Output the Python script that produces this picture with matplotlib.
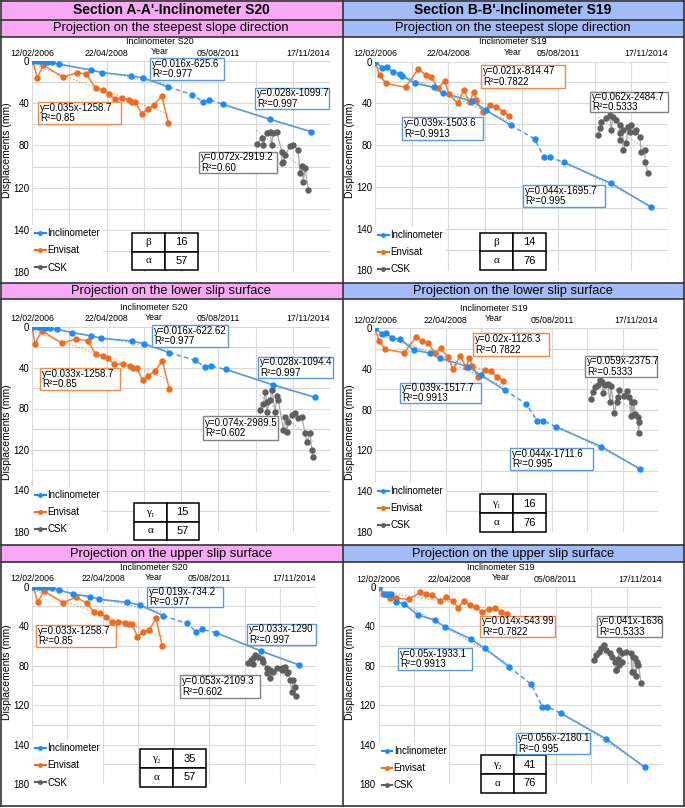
import numpy as np
import matplotlib
matplotlib.use('Agg')
import matplotlib.pyplot as plt
from matplotlib.patches import Rectangle
from matplotlib.lines import Line2D
from matplotlib.transforms import offset_copy

plt.rcParams['font.family'] = ['Liberation Sans', 'DejaVu Sans']

W, H = 685, 808

# dates are Excel serial days, displacements in mm (axis labels as printed)
x_ticks = list(range(38760, 41961, 400))
x_labels = ['12/02/2006', '', '22/04/2008', '', '', '05/08/2011', '', '', '17/11/2014']
y_ticks = list(range(0, 201, 20))
y_labels = ['0', '', '40', '', '80', '', '120', '', '140', '', '180']

# ---------- Section A-A' / Inclinometer S20 ----------
a_steep_incl_t = [38767, 38810, 38846, 38900, 38924, 38972, 39053, 39394, 39509, 39823, 39955, 40224,
                  40482, 40600, 40661, 40808, 41316, 41756]
a_steep_incl_d = [0, 0, 0, 0.5, 1, 1.2, 3, 8.5, 11, 14, 16, 24.6, 32, 39, 36.7, 41, 55.3, 67]
a_steep_env_t = [38767, 38817, 38881, 39096, 39240, 39340, 39447, 39526, 39587, 39651, 39730, 39802,
                 39837, 39866, 39938, 40003, 40070, 40153, 40224]
a_steep_env_d = [0, 16, 4, 15.5, 11, 12.3, 26, 27.5, 31, 36, 35, 37, 38.5, 38.5, 50, 45.5, 41.7, 33, 58.5]
a_steep_csk_t = [41173, 41244, 41334, 41227, 41281, 41316, 41352, 41388, 41442, 41477, 41442, 41460,
                 41531, 41567, 41620, 41657, 41692, 41638, 41674, 41728]
a_steep_csk_d = [78.7, 79.6, 80, 73.3, 68.5, 67, 68, 67, 86, 89, 97, 95.5, 81, 79.6, 84.4, 99.5,
                 101.7, 106.5, 114.4, 122.3]

a_lower_incl_t = [38774, 38821, 38864, 38900, 38953, 39032, 39193, 39390, 39501, 39831, 39966, 40235,
                  40511, 40618, 40680, 40840, 41352, 41800]
a_lower_incl_d = [0, 0, 0, 1, 1.8, 2.7, 6, 9, 11.5, 14.2, 16.8, 25.6, 33, 39.5, 38.5, 41.8, 57.1, 69.1]
a_lower_env_t = [38760, 38792, 38864, 39079, 39233, 39358, 39444, 39526, 39573, 39645, 39735, 39813,
                 39848, 39884, 39949, 40009, 40081, 40160, 40235]
a_lower_env_d = [0, 17.1, 4.1, 16.4, 12.2, 13.9, 27.1, 28.5, 31, 36.9, 36.6, 38.6, 40.2, 40.2, 52.2,
                 48, 43.4, 33.4, 61.3]
a_lower_csk_t = [41209, 41244, 41281, 41316, 41281, 41370, 41405, 41477, 41459, 41495, 41513, 41549,
                 41585, 41620, 41657, 41692, 41746, 41710, 41764, 41782, 41263, 41338, 41391]
a_lower_csk_d = [81.5, 75.6, 73.4, 71.7, 83.2, 83.2, 71.7, 88, 101, 102.7, 92.9, 86.4, 84.7, 89.6, 88,
                 104.2, 104.2, 112.4, 120.5, 127, 63.9, 62, 67.8]

a_upper_incl_t = [38775, 38824, 38861, 38925, 38982, 39068, 39219, 39414, 39519, 39834, 39977, 40240,
                  40503, 40608, 40672, 40834, 41337, 41772]
a_upper_incl_d = [0, 0, 0, 0.7, 1, 3.4, 7.4, 10.1, 12.8, 15.8, 18.6, 29.4, 37.1, 45.6, 43.2, 46.6,
                  65.2, 79.4]
a_upper_env_t = [38775, 38824, 38895, 39106, 39256, 39383, 39459, 39526, 39594, 39665, 39733, 39808,
                 39857, 39890, 39947, 40014, 40082, 40157, 40228]
a_upper_env_d = [0, 15.8, 4.1, 16.2, 10.7, 16.8, 26, 27, 30.4, 36.1, 35.5, 36.5, 38.1, 38.1, 50.7,
                 45.6, 43.9, 32, 59.8]
a_upper_csk_t = [41198, 41225, 41254, 41273, 41311, 41349, 41254, 41367, 41405, 41442, 41518, 41574,
                 41611, 41649, 41405, 41442, 41473, 41574, 41630, 41668, 41705, 41724, 41687, 41735]
a_upper_csk_d = [77.7, 74.3, 72.6, 69.5, 71, 73.3, 78.7, 76.6, 82.7, 84.4, 82.1, 82.7, 81.1, 86.2,
                 87.8, 92.9, 86.2, 84.4, 87.8, 94.6, 94.6, 101.4, 106.4, 110.8]

# ---------- Section B-B' / Inclinometer S19 ----------
b_steep_incl_t = [38760, 38840, 38891, 38957, 39036, 39052, 39200, 39401, 39503, 39822, 39969, 40242,
                  40504, 40605, 40674, 40821, 41340, 41777]
b_steep_incl_d = [0, 5.9, 5, 10.3, 12, 13.6, 20.9, 24.7, 30.1, 38.1, 46.4, 60.8, 74.2, 91.7, 91.7,
                  96.5, 116.6, 139.5]
b_steep_env_t = [38760, 38812, 38877, 39095, 39229, 39320, 39375, 39448, 39521, 39568, 39666, 39729,
                 39794, 39838, 39866, 39939, 40012, 40078, 40158, 40223]
b_steep_env_d = [0, 12.9, 20.9, 24.7, 7.5, 12.9, 15.1, 25.6, 18.7, 31.4, 40, 27.3, 39, 28.9, 36.8,
                 48.6, 41.6, 43.3, 48, 51.9]
b_steep_csk_t = [41195, 41214, 41231, 41286, 41323, 41340, 41359, 41395, 41432, 41435, 41432, 41468,
                 41468, 41504, 41523, 41545, 41559, 41596, 41614, 41651, 41668, 41708, 41708, 41741]
b_steep_csk_d = [70.3, 63.9, 57.6, 54.4, 51.2, 65.6, 52.8, 56, 60.8, 68.4, 75.1, 65.6, 84.7, 78.3,
                 62.4, 67.2, 60.8, 67.2, 65.6, 72, 86.3, 84.7, 95.9, 107]

b_lower_incl_t = [38760, 38843, 38888, 38956, 39046, 39197, 39385, 39498, 39811, 39955, 40226, 40471,
                  40592, 40660, 40803, 41319, 41753]
b_lower_incl_d = [0, 5.9, 4.9, 9.8, 10.8, 21.3, 24.6, 29.5, 37.7, 45.9, 60.7, 74.4, 90.8, 90.8, 96.7,
                  116.4, 138.3]
b_lower_env_t = [38760, 38805, 38873, 39088, 39224, 39295, 39363, 39439, 39506, 39582, 39646, 39722,
                 39790, 39827, 39861, 39929, 40005, 40073, 40137, 40212]
b_lower_env_d = [0, 12.5, 20.6, 24, 8.8, 12.2, 14.7, 24.6, 19.7, 28.5, 40.3, 26.9, 38.3, 28.9, 37.1,
                 47.6, 41, 42, 48.2, 51.5]
b_lower_csk_t = [41198, 41224, 41251, 41281, 41300, 41326, 41364, 41394, 41432, 41341, 41416, 41465,
                 41492, 41510, 41522, 41578, 41605, 41631, 41662, 41688, 41654, 41680, 41699, 41730,
                 41741, 41748]
b_lower_csk_d = [69.8, 62.3, 57.4, 55.7, 50.8, 52.5, 55.7, 54.7, 56.7, 63.9, 72.7, 83.6, 72.2, 67.2,
                 60.7, 66.6, 61.6, 67.2, 72.2, 72.7, 85.9, 85.2, 84.5, 87.5, 103.2, 92.4]

b_upper_incl_t = [38765, 38829, 38866, 38903, 38960, 39047, 39205, 39393, 39506, 39807, 39958, 40232,
                  40484, 40608, 40665, 40816, 41331, 41764]
b_upper_incl_d = [0, 7.4, 7.1, 7.4, 14.9, 17.3, 28.4, 33.5, 40.3, 53.1, 62.2, 80.9, 98.8, 121.5,
                  121.5, 128.2, 154.3, 183]
b_upper_env_t = [38765, 38810, 38866, 38885, 38960, 39100, 39231, 39292, 39366, 39450, 39524, 39600,
                 39656, 39724, 39795, 39863, 39931, 40006, 40071, 40145, 40213]
b_upper_env_d = [0, 7.4, 8.1, 11.5, 11.5, 12.5, 5.4, 7.4, 8.1, 13.9, 10.5, 14.2, 21, 13.9, 18.3, 20,
                 25.7, 22, 21.6, 25, 27.1]
b_upper_csk_t = [41188, 41218, 41248, 41274, 41301, 41331, 41369, 41398, 41425, 41463, 41437, 41474,
                 41511, 41550, 41613, 41636, 41655, 41674, 41692, 41617, 41477, 41505, 41444, 41632,
                 41669, 41726]
b_upper_csk_d = [74.1, 69, 65.7, 62.2, 58.9, 63.9, 67.3, 70.7, 75.8, 73.1, 84.2, 63.9, 67.3, 65.7,
                 66.7, 70.7, 72.4, 75.8, 79.2, 86, 79.2, 75.8, 84.2, 86, 90.3, 97.7]

# regression labels
a_steep_eqs = ['y=0.016x-625.6\nR²=0.977', 'y=0.028x-1099.7\nR²=0.997',
               'y=0.035x-1258.7\nR²=0.85', 'y=0.072x-2919.2\nR²=0.60']
a_lower_eqs = ['y=0.016x-622.62\nR²=0.977', 'y=0.028x-1094.4\nR²=0.997',
               'y=0.033x-1258.7\nR²=0.85', 'y=0.074x-2989.5\nR²=0.602']
a_upper_eqs = ['y=0.019x-734.2\nR²=0.977', 'y=0.033x-1290\nR²=0.997',
               'y=0.033x-1258.7\nR²=0.85', 'y=0.053x-2109.3\nR²=0.602']
b_steep_eqs = ['y=0.039x-1503.6\nR²=0.9913', 'y=0.044x-1695.7\nR²=0.995',
               'y=0.021x-814.47\nR²=0.7822', 'y=0.062x-2484.7\nR²=0.5333']
b_lower_eqs = ['y=0.039x-1517.7\nR²=0.9913', 'y=0.044x-1711.6\nR²=0.995',
               'y=0.02x-1126.3\nR²=0.7822', 'y=0.059x-2375.7\nR²=0.5333']
b_upper_eqs = ['y=0.05x-1933.1\nR²=0.9913', 'y=0.056x-2180.1\nR²=0.995',
               'y=0.014x-543.99\nR²=0.7822', 'y=0.041x-1636\nR²=0.5333']

angle_names = ['β', 'γ₁', 'γ₂']
a_angles = [16, 15, 35]
b_angles = [14, 16, 41]
a_alpha = 57
b_alpha = 76

INCL_M, INCL_L = '#1a8cff', '#5b9bd5'
ENV_M, ENV_L = '#f26b1d', '#ef7f3a'
CSK_M, CSK_L = '#5f5f5f', '#a8a8a8'
PINK, BLUE = '#f7a9f3', '#a3bbf6'
EDGE = {'incl': '#5b9bd5', 'env': '#f08a4b', 'csk': '#808080'}

fig = plt.figure(figsize=(W / 100, H / 100), dpi=100)


def fx(px):
    return px / W


def fy(py):
    return 1 - py / H


def fig_box(x0, y0, x1, y1, **kw):
    fig.add_artist(Rectangle((fx(x0), fy(y1)), fx(x1) - fx(x0), fy(y0) - fy(y1),
                             transform=fig.transFigure, **kw))


def fig_line(xs, ys):
    fig.add_artist(Line2D([fx(v) for v in xs], [fy(v) for v in ys], transform=fig.transFigure,
                          color='#333333', lw=1.2, zorder=6))


# header bands
for x0, x1, col in [(1, 342.5, PINK), (342.5, 684, BLUE)]:
    for y0, y1 in [(0, 20), (20, 37), (283, 299), (545, 562)]:
        fig_box(x0, y0, x1, y1, facecolor=col, edgecolor='none', zorder=0.5)
fig.text(fx(171), fy(10.5), "Section A-A'-Inclinometer S20", ha='center', va='center',
         fontsize=10, fontweight='bold')
fig.text(fx(513), fy(10.5), "Section B-B'-Inclinometer S19", ha='center', va='center',
         fontsize=10, fontweight='bold')
subtitles = [(28.5, 'Projection on the steepest slope direction'),
             (291, 'Projection on the lower slip surface'),
             (553.5, 'Projection on the upper slip surface')]
for yy, s in subtitles:
    fig.text(fx(171), fy(yy), s, ha='center', va='center', fontsize=9.3)
    fig.text(fx(513), fy(yy), s, ha='center', va='center', fontsize=9.3)

for yy in [0.8, 20, 37, 283, 299, 545, 562, 806]:
    fig_line([1, 684], [yy, yy])
for xx in [1, 342.5, 684]:
    fig_line([xx, xx], [0.8, 806])


def fit_line(ax, t, d, color):
    t = np.asarray(t, float)
    d = np.asarray(d, float)
    p = np.polyfit(t, d, 1)
    tt = np.array([t.min(), t.max()])
    ax.plot(tt, np.polyval(p, tt), ls=':', color=color, lw=0.9, alpha=0.8, zorder=2)


def draw_panel(rect, data, title, year_frac, eqs, eq_boxes, angle, angle_val, alpha_val,
               table_px, legend_top, ylab_y, ylab_x):
    l, t, r, b = rect
    ax = fig.add_axes([fx(l), fy(b), fx(r) - fx(l), fy(t) - fy(b)])
    incl_t, incl_d, env_t, env_d, csk_t, csk_d = data
    k1 = np.searchsorted(incl_t, 40220)
    k2 = np.searchsorted(incl_t, 40800)
    seg1_t, seg1_d = incl_t[:k1 + 1], incl_d[:k1 + 1]
    seg2_t, seg2_d = incl_t[k2:], incl_d[k2:]

    # trend lines
    fit_line(ax, seg1_t, seg1_d, INCL_L)
    fit_line(ax, seg2_t, seg2_d, INCL_L)
    fit_line(ax, env_t, env_d, ENV_L)
    fit_line(ax, csk_t, csk_d, CSK_L)

    order = np.argsort(csk_t, kind='stable')
    ct = np.asarray(csk_t)[order]
    cd = np.asarray(csk_d)[order]
    ax.plot(ct, cd, color=CSK_L, lw=0.9, zorder=3)
    ax.plot(ct, cd, 'o', color=CSK_M, ms=3.6, zorder=4)

    ax.plot(env_t, env_d, color=ENV_L, lw=1.1, zorder=3)
    ax.plot(env_t, env_d, 'o', color=ENV_M, ms=3.6, zorder=4)

    ax.plot(seg1_t, seg1_d, color=INCL_L, lw=1.2, zorder=3)
    ax.plot(incl_t[k1:k2 + 1], incl_d[k1:k2 + 1], color=INCL_L, lw=1.1, ls=(0, (3, 2)), zorder=3)
    ax.plot(seg2_t, seg2_d, color=INCL_L, lw=1.2, zorder=3)
    ax.plot(incl_t, incl_d, 'o', color=INCL_M, ms=3.6, zorder=5)

    ax.set_xlim(38760, 41960)
    ax.set_ylim(200, 0)
    ax.set_xticks(x_ticks)
    ax.set_xticklabels(x_labels)
    ax.set_yticks(y_ticks)
    ax.set_yticklabels(y_labels)
    ax.xaxis.tick_top()
    lbls = ax.get_xticklabels()
    lbls[-1].set_horizontalalignment('right')
    ax.tick_params(axis='x', length=0, labelsize=6.3, pad=2.5)
    ax.tick_params(axis='y', length=0, labelsize=7, pad=2)
    ax.grid(True, color='#d9d9d9', lw=0.8)
    ax.set_axisbelow(True)
    for s in ax.spines.values():
        s.set_visible(False)

    year_tr = offset_copy(ax.transAxes, fig=fig, y=3.5, units='points')
    ax.text(year_frac, 1, 'Year', transform=year_tr, ha='center', va='bottom', fontsize=6.3)
    fig.text(fx(l + year_frac * (r - l)), fy(t - 19.5), title, ha='center', va='center', fontsize=6.5)
    fig.text(fx(ylab_x), fy(ylab_y), 'Displacements (mm)', rotation=90, ha='center', va='center',
             fontsize=7.5)

    def to_ax(px, py):
        return (px - l) / (r - l), (b - py) / (b - t)

    handles = [Line2D([], [], color=INCL_M, marker='o', ms=2.5, lw=1.5),
               Line2D([], [], color=ENV_M, marker='o', ms=2.5, lw=1.5),
               Line2D([], [], color=CSK_M, marker='o', ms=2.5, lw=1.5)]
    leg = ax.legend(handles, ['Inclinometer', 'Envisat', 'CSK'], loc='upper left',
                    bbox_to_anchor=to_ax(l, legend_top), fontsize=7, frameon=True,
                    fancybox=False, edgecolor='none', facecolor='white', framealpha=1,
                    handlelength=1.1, handletextpad=0.15, labelspacing=0.75,
                    borderpad=0.3, borderaxespad=0)
    leg.set_zorder(8)

    x0, y0, x1, y1 = table_px
    ax0, ay1 = to_ax(x0, y0)
    ax1_, ay0 = to_ax(x1, y1)
    tb = ax.table(cellText=[[angle, str(angle_val)], ['α', str(alpha_val)]], cellLoc='center',
                  bbox=[ax0, ay0, ax1_ - ax0, ay1 - ay0])
    tb.auto_set_font_size(False)
    for (ri, ci), cell in tb.get_celld().items():
        cell.set_edgecolor('black')
        cell.set_linewidth(1.1)
        cell.set_facecolor('white')
        if ci == 0:
            cell.get_text().set_fontfamily(['Liberation Serif', 'DejaVu Serif'])
        cell.get_text().set_fontsize(8)
    tb.set_zorder(9)
    tb.set_clip_on(False)

    kinds = ['incl', 'incl', 'env', 'csk']
    for txt, kind, (bx0, by0, bx1, by1) in zip(eqs, kinds, eq_boxes):
        fig_box(bx0, by0, bx1, by1, facecolor='white', edgecolor=EDGE[kind], lw=1.0, zorder=7)
        fig.text(fx(bx0 + 2), fy((by0 + by1) / 2), txt, ha='left', va='center', fontsize=7,
                 linespacing=1.05, zorder=8)
    return ax


panels = [
    dict(rect=(32, 61, 330, 272),
         data=(a_steep_incl_t, a_steep_incl_d, a_steep_env_t, a_steep_env_d, a_steep_csk_t, a_steep_csk_d),
         title='Inclinometer S20', year_frac=0.43, eqs=a_steep_eqs,
         eq_boxes=[(150, 58, 224, 80), (255, 88, 329, 109), (38, 102, 121, 124), (199, 152, 277, 173)],
         angle=angle_names[0], angle_val=a_angles[0], alpha_val=a_alpha,
         table_px=(132, 233, 198, 270), legend_top=225, ylab_y=150, ylab_x=7),
    dict(rect=(375, 61.5, 668, 270.5),
         data=(b_steep_incl_t, b_steep_incl_d, b_steep_env_t, b_steep_env_d, b_steep_csk_t, b_steep_csk_d),
         title='Inclinometer S19', year_frac=0.47, eqs=b_steep_eqs,
         eq_boxes=[(402, 117, 483, 140), (523, 185, 605, 207), (481, 65, 565, 88), (590, 92, 668, 112)],
         angle=angle_names[0], angle_val=b_angles[0], alpha_val=b_alpha,
         table_px=(480, 233, 546, 270), legend_top=227, ylab_y=150, ylab_x=350),
    dict(rect=(32, 326.5, 330, 531.5),
         data=(a_lower_incl_t, a_lower_incl_d, a_lower_env_t, a_lower_env_d, a_lower_csk_t, a_lower_csk_d),
         title='Inclinometer S20', year_frac=0.41, eqs=a_lower_eqs,
         eq_boxes=[(152, 325, 228, 347), (258, 357, 333, 378), (40, 368, 120, 390), (203, 416, 278, 440)],
         angle=angle_names[1], angle_val=a_angles[1], alpha_val=a_alpha,
         table_px=(134, 503, 199, 540), legend_top=487, ylab_y=432, ylab_x=7),
    dict(rect=(375, 328.3, 658, 531.7),
         data=(b_lower_incl_t, b_lower_incl_d, b_lower_env_t, b_lower_env_d, b_lower_csk_t, b_lower_csk_d),
         title='Inclinometer S19', year_frac=0.42, eqs=b_lower_eqs,
         eq_boxes=[(400, 383, 481, 403), (510, 448, 593, 470), (473, 333, 549, 356), (585, 356, 657, 377)],
         angle=angle_names[1], angle_val=b_angles[1], alpha_val=b_alpha,
         table_px=(480, 494, 546, 532), legend_top=483, ylab_y=432, ylab_x=350),
    dict(rect=(32, 586.7, 316, 784),
         data=(a_upper_incl_t, a_upper_incl_d, a_upper_env_t, a_upper_env_d, a_upper_csk_t, a_upper_csk_d),
         title='Inclinometer S20', year_frac=0.43, eqs=a_upper_eqs,
         eq_boxes=[(147, 587, 223, 607), (247, 624, 316, 645), (36, 625, 116, 647), (180, 675, 260, 698)],
         angle=angle_names[2], angle_val=a_angles[2], alpha_val=a_alpha,
         table_px=(140, 749, 206, 787), legend_top=740, ylab_y=672, ylab_x=7),
    dict(rect=(378.6, 587, 662, 784),
         data=(b_upper_incl_t, b_upper_incl_d, b_upper_env_t, b_upper_env_d, b_upper_csk_t, b_upper_csk_d),
         title='Inclinometer S19', year_frac=0.43, eqs=b_upper_eqs,
         eq_boxes=[(398, 648, 472, 670), (516, 733, 590, 754), (480, 616, 555, 637), (597, 616, 662, 637)],
         angle=angle_names[2], angle_val=b_angles[2], alpha_val=b_alpha,
         table_px=(481, 755, 546, 793), legend_top=743, ylab_y=672, ylab_x=350),
]

for p in panels:
    draw_panel(**p)

fig.savefig('out.png', dpi=100)
